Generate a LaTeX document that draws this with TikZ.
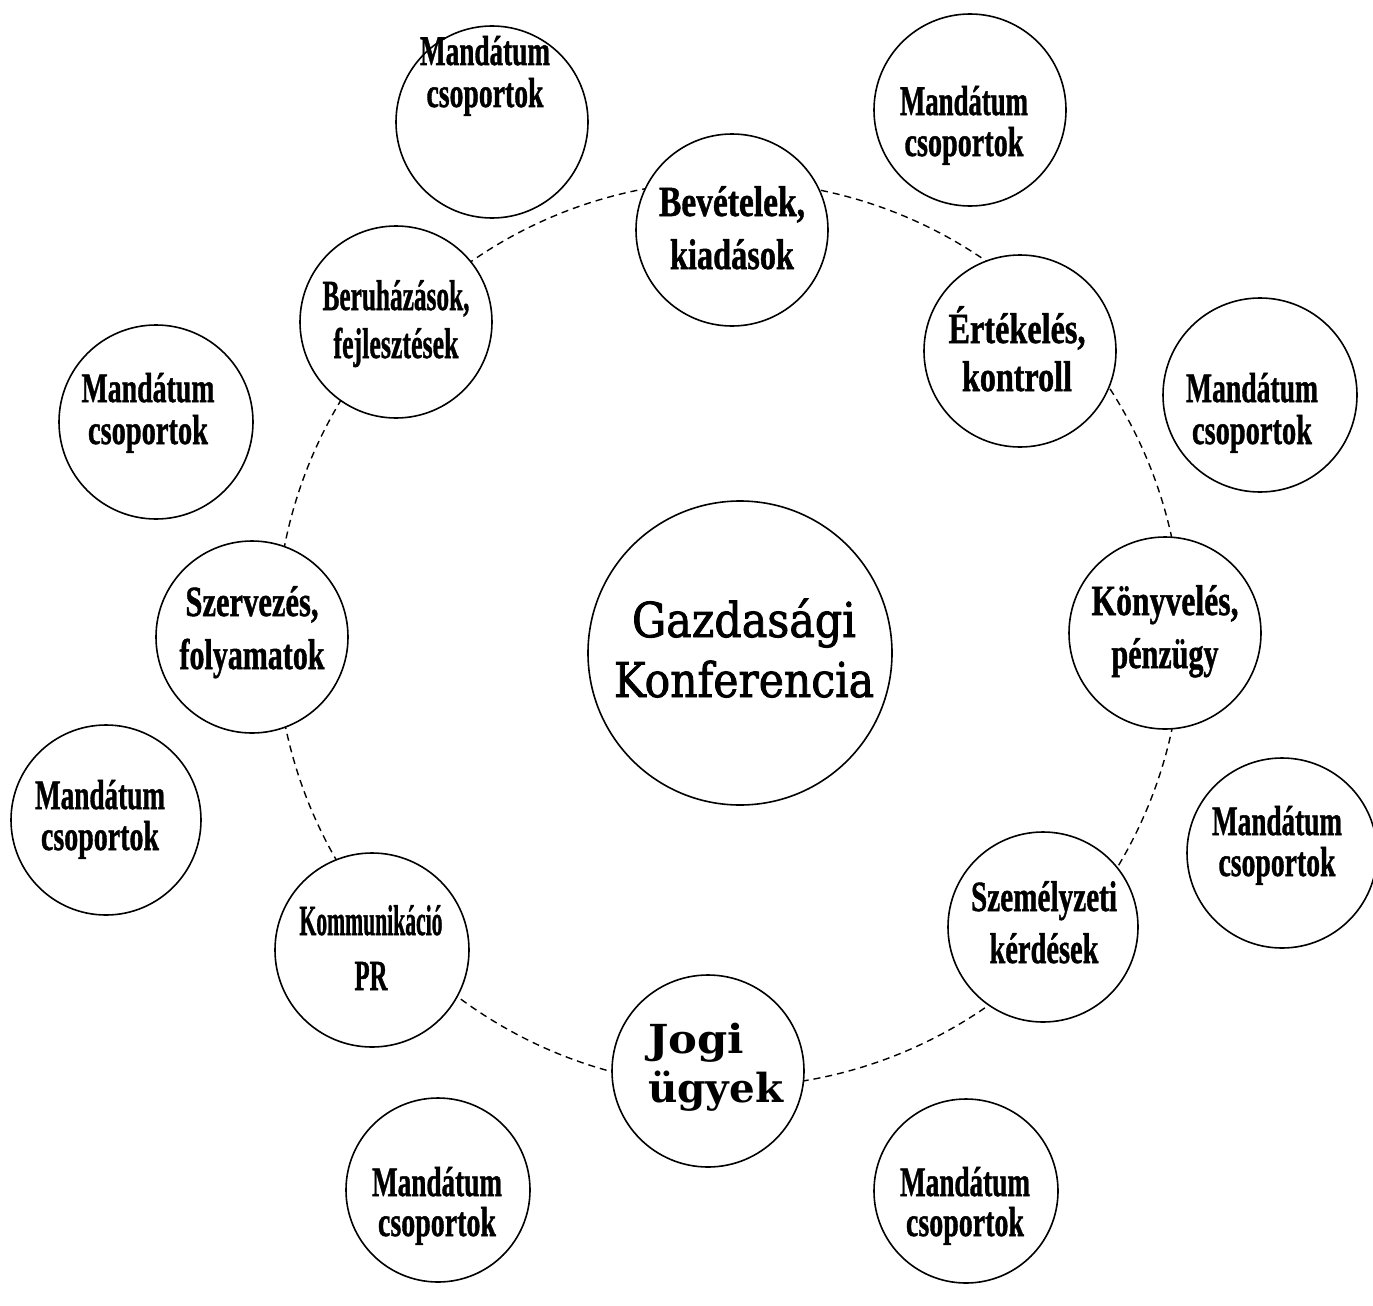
\documentclass[tikz,border=0pt]{standalone}
\usepackage{fontspec}
\usepackage{graphicx}
\newfontfamily\tnrfont[BoldFeatures={FakeBold=1.2}]{Liberation Serif}
\newfontfamily\dvsfont{DejaVu Serif}
% two centred lines, each squeezed to a given width, fixed baseline distance
\newcommand\twoc[5]{\vtop{\baselineskip=#5pt\lineskiplimit=-\maxdimen\lineskip=0pt
  \halign{\hfil##\hfil\cr\resizebox{#1pt}{\height}{#2}\cr\resizebox{#3pt}{\height}{#4}\cr}}}
% two left-aligned lines
\newcommand\twol[5]{\vtop{\baselineskip=#5pt\lineskiplimit=-\maxdimen\lineskip=0pt
  \halign{##\hfil\cr\resizebox{#1pt}{\height}{#2}\cr\resizebox{#3pt}{\height}{#4}\cr}}}
% slightly heavier text: fill and stroke the glyphs
\newcommand\heavy[1]{\special{pdf:literal direct 2 Tr 0.9 w}#1\special{pdf:literal direct 0 Tr}}
\tikzset{
  circ/.style={circle, draw=black, line width=1.6pt, fill=white, inner sep=0pt, minimum size=#1pt*2},
  ringline/.style={draw=black, line width=1.4pt, dash pattern=on 7pt off 5pt},
  mtxt/.style={anchor=base, inner sep=0pt, font=\tnrfont\bfseries\fontsize{42}{42}\selectfont},
  rtxt/.style={anchor=base, inner sep=0pt, font=\tnrfont\bfseries\fontsize{43}{43}\selectfont},
  jtxt/.style={anchor=base west, inner sep=0pt, font=\dvsfont\bfseries\fontsize{40}{40}\selectfont},
  gtxt/.style={anchor=base, inner sep=0pt, font=\dvsfont\fontsize{48}{48}\selectfont}
}
\begin{document}
\begin{tikzpicture}[x=1pt,y=-1pt]
\fill[white] (0,0) rectangle (1373,1306);
\useasboundingbox (0,0) rectangle (1373,1306);
\coordinate (ringc) at (729,634);
\draw[ringline] (ringc) circle[radius=453pt];

% outer circles
\node[circ=96] (mtl) at (492,122) {};
\node[circ=96] (mtr) at (970,110) {};
\node[circ=97] (mru) at (1260,395) {};
\node[circ=95] (mrl) at (1282,853) {};
\node[circ=92] (mbr) at (966,1191) {};
\node[circ=92] (mbl) at (438,1190) {};
\node[circ=95] (mll) at (106,820) {};
\node[circ=97] (mlu) at (156,422) {};

% ring circles
\node[circ=96] (bev) at (732,230) {};
\node[circ=96] (ert) at (1020,351) {};
\node[circ=96] (kony) at (1165,633) {};
\node[circ=95] (szem) at (1043,927) {};
\node[circ=96] (jogi) at (708,1071) {};
\node[circ=97] (komm) at (372,950) {};
\node[circ=96] (szerv) at (252,637) {};
\node[circ=96] (beru) at (396,322) {};

% centre
\node[circ=152] (gazd) at (740,653) {};

% texts
\node[mtxt] (mtl-t) at (485,65) {\twoc{130}{Mandátum}{117}{csoportok}{42}};
\node[mtxt] (mtr-t) at (964,115) {\twoc{128}{Mandátum}{119}{csoportok}{41}};
\node[mtxt] (mru-t) at (1252,402) {\twoc{132}{Mandátum}{120}{csoportok}{42}};
\node[mtxt] (mrl-t) at (1277,835) {\twoc{130}{Mandátum}{117}{csoportok}{41}};
\node[mtxt] (mbr-t) at (965,1196) {\twoc{130}{Mandátum}{118}{csoportok}{40}};
\node[mtxt] (mbl-t) at (437,1196) {\twoc{130}{Mandátum}{118}{csoportok}{40}};
\node[mtxt] (mll-t) at (100,809) {\twoc{130}{Mandátum}{118}{csoportok}{41}};
\node[mtxt] (mlu-t) at (148,402) {\twoc{133}{Mandátum}{120}{csoportok}{42}};

\node[rtxt] (bev-t) at (732,216) {\twoc{146}{Bevételek,}{124}{kiadások}{53}};
\node[rtxt] (ert-t) at (1017,343) {\twoc{137}{Értékelés,}{110}{kontroll}{48}};
\node[rtxt] (kony-t) at (1165,615) {\twoc{147}{Könyvelés,}{107}{pénzügy}{53}};
\node[rtxt] (szem-t) at (1044,911) {\twoc{146}{Személyzeti}{109}{kérdések}{52}};
\node[rtxt] (komm-t) at (371,935) {\twoc{143}{Kommunikáció}{33}{PR}{55}};
\node[rtxt] (szerv-t) at (252,616) {\twoc{133}{Szervezés,}{145}{folyamatok}{53}};
\node[rtxt] (beru-t) at (396,310) {\twoc{147}{Beruházások,}{125}{fejlesztések}{48}};
\node[jtxt] (jogi-t) at (648,1053) {\twol{96}{Jogi}{135}{ügyek}{49}};
\node[gtxt] (gazd-t) at (744,637) {\heavy{\twoc{224}{Gazdasági}{260}{Konferencia}{60}}};
\end{tikzpicture}
\end{document}
